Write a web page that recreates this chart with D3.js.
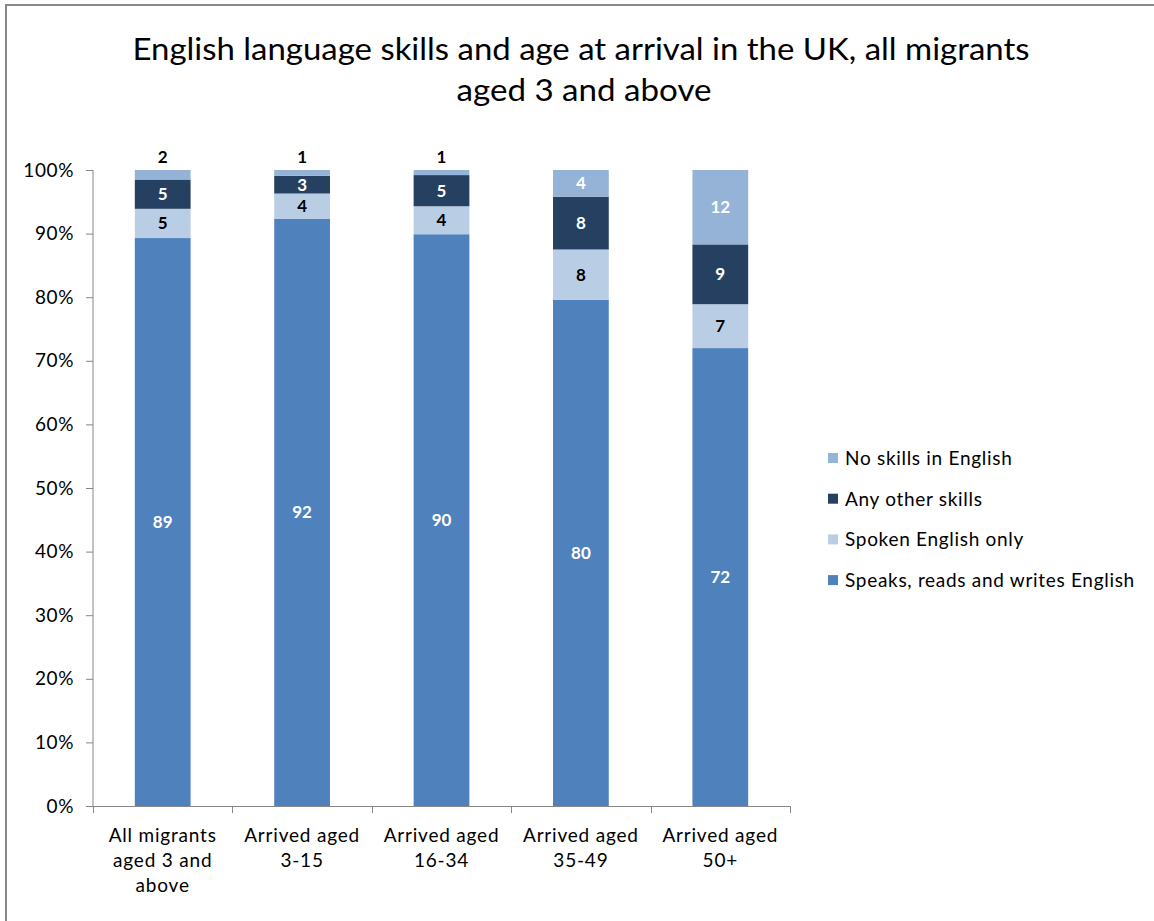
<!DOCTYPE html>
<html><head><meta charset="utf-8">
<script src="https://cdn.jsdelivr.net/npm/d3@7"></script>
<style>body{margin:0;background:#fff;} svg{display:block;}</style>
</head><body><svg id="c" width="1154" height="921"></svg>
<script>
const categories = [["All migrants","aged 3 and","above"],["Arrived aged","3-15"],["Arrived aged","16-34"],["Arrived aged","35-49"],["Arrived aged","50+"]];
const seriesNames = ["Speaks, reads and writes English","Spoken English only","Any other skills","No skills in English"];
const speaks = [89.3, 92.3, 89.9, 79.6, 72.0];
const spokenOnly = [4.6, 4.0, 4.4, 7.9, 6.9];
const otherSkills = [4.6, 2.8, 4.9, 8.3, 9.4];
const noSkills = [1.5, 0.9, 0.8, 4.2, 11.7];
const yTicks = [0,10,20,30,40,50,60,70,80,90,100];
const colors = ["#4F81BD","#B9CDE5","#254061","#95B3D7"];
const labelColors = ["#fff","#000","#fff","#fff"];
const font = "Lato, 'Open Sans', sans-serif";

const svg = d3.select("#c");
svg.append("path").attr("d","M6,921 V5 H1154").attr("fill","none").attr("stroke","#888").attr("stroke-width",2);

const t = svg.append("text").attr("text-anchor","middle").attr("font-family",font).attr("font-size",31).attr("fill","#000");
t.append("tspan").attr("x",581).attr("y",60).attr("textLength",897).attr("lengthAdjust","spacingAndGlyphs").text("English language skills and age at arrival in the UK, all migrants");
t.append("tspan").attr("x",584).attr("y",101).attr("textLength",255).attr("lengthAdjust","spacingAndGlyphs").text("aged 3 and above");

const x0 = 93, x1 = 790, yTop = 170, yBot = 806;
const idx = categories.map((d,i)=>i);
const x = d3.scaleBand().domain(idx).range([x0,x1]).paddingInner(0.6).paddingOuter(0.3);
const y = d3.scaleLinear().domain([0,100]).range([yBot,yTop]);

const rows = idx.map(i=>({i, s0:speaks[i], s1:spokenOnly[i], s2:otherSkills[i], s3:noSkills[i]}));
const stack = d3.stack().keys(["s0","s1","s2","s3"])(rows);

const yAxis = svg.append("g").attr("transform",`translate(${x0},0)`)
  .call(d3.axisLeft(y).tickValues(yTicks).tickFormat(d=>d+"%").tickSize(7).tickPadding(12));
yAxis.select(".domain").attr("stroke","#868686").attr("d",`M0,${yTop}V${yBot}`);
yAxis.selectAll(".tick line").attr("stroke","#868686");
yAxis.selectAll("text").attr("font-family",font).attr("font-size",19).attr("letter-spacing",0.6).attr("fill","#000");

stack.forEach((layer,k)=>{
  svg.append("g").selectAll("rect").data(layer).join("rect")
    .attr("x",d=>x(d.data.i)).attr("width",x.bandwidth())
    .attr("y",d=>y(d[1])).attr("height",d=>y(d[0])-y(d[1]))
    .attr("fill",colors[k]);
});

const band = d3.scaleLinear().domain([0,5]).range([x0,x1]);
const xa = svg.append("g");
xa.append("line").attr("x1",x0).attr("x2",x1).attr("y1",yBot+0.5).attr("y2",yBot+0.5).attr("stroke","#868686");
xa.selectAll("line.tk").data(d3.range(6)).join("line").attr("class","tk")
  .attr("x1",d=>Math.round(band(d))+0.5).attr("x2",d=>Math.round(band(d))+0.5).attr("y1",yBot).attr("y2",yBot+7).attr("stroke","#868686");
categories.forEach((lines,i)=>{
  const tx = svg.append("text").attr("text-anchor","middle").attr("font-family",font).attr("font-size",19).attr("letter-spacing",0.8).attr("fill","#000");
  lines.forEach((ln,j)=>tx.append("tspan").attr("x",x(i)+x.bandwidth()/2).attr("y",842+j*25).text(ln));
});

stack.forEach((layer,k)=>{
  svg.append("g").selectAll("text").data(layer).join("text")
    .attr("text-anchor","middle").attr("font-family",font).attr("font-weight","bold").attr("font-size",17)
    .attr("x",d=>x(d.data.i)+x.bandwidth()/2)
    .attr("y",d=>{const v=d[1]-d[0]; if(k===3 && v<2) return y(100)-7; return (y(d[0])+y(d[1]))/2+6;})
    .attr("fill",d=>{const v=d[1]-d[0]; return (k===3 && v<2) ? "#000" : labelColors[k];})
    .text(d=>Math.round(d[1]-d[0]));
});

const legOrder = [3,2,1,0];
const lg = svg.append("g").attr("font-family",font).attr("font-size",19).attr("letter-spacing",0.7);
legOrder.forEach((k,j)=>{
  const cy = 458 + j*40.7;
  lg.append("rect").attr("x",828).attr("y",cy-5).attr("width",10).attr("height",10).attr("fill",colors[k]);
  lg.append("text").attr("x",845).attr("y",cy+7).text(seriesNames[k]);
});
</script></body></html>
